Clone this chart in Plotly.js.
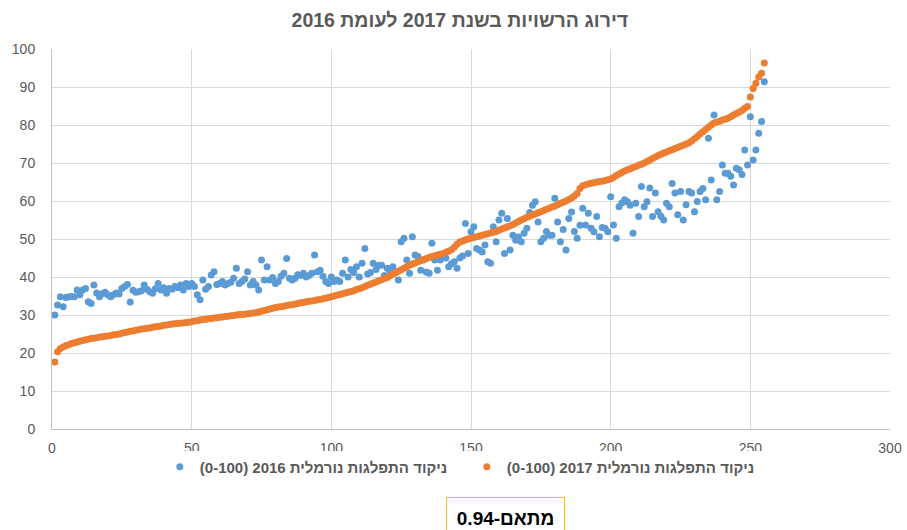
<!DOCTYPE html>
<html>
<head>
<meta charset="utf-8">
<script src="https://cdn.plot.ly/plotly-3.0.1.min.js"></script>
<style>html,body{margin:0;padding:0;background:#fff;}#chart{width:907px;height:530px;}</style>
</head>
<body>
<div id="chart"></div>
<script>
// Title and labels
const chartTitle = "דירוג הרשויות בשנת 2017 לעומת 2016";
const name2016 = "(0-100) 2016 ניקוד התפלגות נורמלית";
const name2017 = "(0-100) 2017 ניקוד התפלגות נורמלית";
const corrLabel = "מתאם-0.94";

// 2017 normalized score (sorted rank order)
const score2017 = [
17.6,20.3,21.2,21.6,22.0,22.2,22.5,22.7,22.9,23.1,
23.3,23.5,23.6,23.8,23.9,24.0,24.2,24.3,24.4,24.5,
24.6,24.8,24.9,25.0,25.2,25.4,25.5,25.7,25.8,26.0,
26.1,26.3,26.4,26.5,26.6,26.8,26.9,27.0,27.1,27.3,
27.4,27.5,27.6,27.7,27.8,27.8,27.9,28.0,28.1,28.2,
28.4,28.5,28.7,28.8,28.9,29.0,29.1,29.2,29.3,29.4,
29.5,29.6,29.7,29.8,29.9,30.0,30.1,30.1,30.2,30.3,
30.4,30.5,30.6,30.8,31.0,31.2,31.4,31.6,31.8,32.0,
32.1,32.2,32.3,32.5,32.6,32.7,32.9,33.0,33.2,33.3,
33.5,33.6,33.7,33.8,34.0,34.1,34.3,34.4,34.6,34.8,
35.0,35.2,35.4,35.6,35.8,36.0,36.2,36.4,36.7,36.9,
37.2,37.5,37.8,38.1,38.4,38.7,39.0,39.3,39.6,39.9,
40.3,40.7,41.1,41.5,41.9,42.3,42.7,43.1,43.4,43.7,
44.0,44.3,44.6,44.9,45.1,45.4,45.6,45.8,46.0,46.2,
46.5,46.8,47.2,47.8,48.6,49.2,49.5,49.8,50.0,50.2,
50.4,50.6,50.8,51.0,51.2,51.4,51.6,51.8,52.0,52.3,
52.6,52.9,53.2,53.5,53.8,54.2,54.6,55.0,55.3,55.7,
56.0,56.3,56.6,56.9,57.2,57.5,57.8,58.1,58.4,58.7,
59.0,59.4,59.7,60.0,60.4,60.8,61.3,62.0,63.3,64.0,
64.3,64.5,64.7,64.8,65.0,65.1,65.2,65.4,65.6,65.8,
66.2,66.7,67.1,67.5,67.9,68.2,68.5,68.8,69.1,69.4,
69.7,70.0,70.4,70.8,71.2,71.6,72.0,72.3,72.6,72.9,
73.2,73.5,73.8,74.1,74.4,74.7,75.0,75.3,75.8,76.4,
77.0,77.6,78.2,78.8,79.4,80.0,80.5,80.8,81.0,81.3,
81.5,81.8,82.2,82.6,83.0,83.4,83.8,84.4,84.9,87.4,
89.6,91.0,92.6,93.6,96.3
];

// 2016 normalized score (same municipalities, in 2017 rank order)
const score2016 = [
30.0,32.6,34.8,32.2,34.6,34.8,34.9,34.8,36.6,35.3,
36.6,37.0,33.5,33.0,37.9,35.8,34.8,35.6,36.0,35.3,
34.8,35.3,35.8,35.5,37.0,37.5,38.0,33.4,36.5,36.0,
36.1,36.4,37.9,36.8,36.1,35.7,36.9,38.3,36.6,37.2,
35.7,37.0,36.8,37.5,37.2,37.9,36.6,38.3,37.5,38.3,
37.5,35.3,34.0,39.2,36.8,37.5,40.5,41.4,38.0,38.3,
38.8,37.9,38.3,38.6,39.7,42.3,38.3,38.8,39.5,41.4,
37.9,38.8,37.9,36.6,44.5,39.2,42.7,39.2,39.9,38.3,
38.8,40.2,41.0,44.9,39.7,39.2,39.7,40.6,40.4,41.0,
40.0,40.4,41.0,45.8,41.4,41.8,40.2,38.8,38.3,40.0,
38.8,39.2,38.8,41.0,44.5,40.0,42.0,41.2,42.7,40.0,
43.6,47.5,40.8,41.2,43.6,42.0,43.1,43.1,40.4,42.3,
41.6,42.7,41.4,39.2,49.3,50.2,44.5,41.0,50.6,45.8,
45.4,41.8,44.5,41.3,41.0,48.9,44.5,41.8,44.5,45.8,
45.0,42.7,43.5,44.0,42.3,45.0,45.5,54.1,46.2,51.9,
53.2,47.5,47.1,46.6,48.4,44.0,43.6,53.2,49.3,55.0,
56.8,46.2,55.4,47.1,51.0,49.7,50.5,49.3,51.5,52.8,
57.0,58.9,59.8,54.5,49.3,50.2,52.0,51.0,51.0,60.7,
54.5,49.3,52.5,47.1,55.4,57.1,52.0,50.2,53.6,58.1,
53.7,56.8,52.8,51.9,55.9,50.6,53.0,52.8,51.9,61.1,
53.7,50.2,58.5,59.5,60.3,59.8,58.9,51.5,59.4,55.9,
63.8,58.5,59.8,63.4,55.9,62.1,57.2,56.0,55.0,59.4,
58.5,64.6,62.1,56.4,62.5,55.0,59.0,62.5,62.1,57.2,
59.9,62.5,63.3,60.3,76.5,65.5,82.6,60.3,62.5,69.5,
67.3,67.3,66.5,64.2,68.6,68.2,67.0,73.4,69.5,82.2,
70.8,73.4,77.8,80.9,91.4
];

const rank2016 = score2016.map((_, i) => i + 1);
const rank2017 = score2017.map((_, i) => i + 1);

const xTicks = [0, 50, 100, 150, 200, 250, 300];
const yTicks = [0, 10, 20, 30, 40, 50, 60, 70, 80, 90, 100];

const FONT = "'Liberation Sans', Arial, 'DejaVu Sans', sans-serif";
const GRAY = "#595959";

const traces = [
  {
    type: "scatter", mode: "markers", name: name2016,
    x: rank2016, y: score2016,
    marker: {color: "#5B9BD5", size: 7}
  },
  {
    type: "scatter", mode: "markers", name: name2017,
    x: rank2017, y: score2017,
    marker: {color: "#ED7D31", size: 7}
  }
];

const layout = {
  width: 907, height: 530,
  margin: {l: 52, r: 17, t: 49, b: 101},
  paper_bgcolor: "#ffffff", plot_bgcolor: "#ffffff",
  font: {family: FONT, color: GRAY, size: 14},
  title: {
    text: "<b>" + chartTitle + "</b>",
    font: {family: FONT, size: 19.5, color: GRAY},
    x: 0.507, xref: "container", xanchor: "center",
    y: 0.962, yref: "container", yanchor: "middle"
  },
  showlegend: true,
  legend: {
    orientation: "h", x: 0.495, xanchor: "center", y: -0.1, yanchor: "middle",
    font: {family: FONT, size: 15, color: GRAY, weight: "bold"},
    traceorder: "normal", entrywidthmode: "pixels", entrywidth: 262
  },
  xaxis: {
    range: [0, 300], tickvals: xTicks, ticktext: xTicks.map(String),
    showgrid: true, gridcolor: "#d9d9d9", gridwidth: 1,
    zeroline: false, showline: true, linecolor: "#bfbfbf", linewidth: 1,
    ticks: "outside", ticklen: 6, tickcolor: "rgba(0,0,0,0)",
    tickfont: {family: FONT, size: 14, color: GRAY},
    fixedrange: true
  },
  yaxis: {
    range: [0, 100], tickvals: yTicks, ticktext: yTicks.map(String),
    showgrid: true, gridcolor: "#d9d9d9", gridwidth: 1,
    zeroline: false, showline: true, linecolor: "#bfbfbf", linewidth: 1,
    ticks: "outside", ticklen: 13, tickcolor: "rgba(0,0,0,0)",
    tickfont: {family: FONT, size: 14, color: GRAY},
    fixedrange: true
  },
  annotations: [{
    text: "<b>" + corrLabel + "</b>",
    xref: "paper", yref: "paper", x: 0.541, y: -0.179,
    xanchor: "center", yanchor: "top", showarrow: false,
    font: {family: FONT, size: 19, color: "#000000"},
    bordercolor: "#FFC000", borderwidth: 1, borderpad: 8,
    bgcolor: "#ffffff", width: 101, height: 24
  }]
};

Plotly.newPlot("chart", traces, layout, {displayModeBar: false, staticPlot: true});
</script>
</body>
</html>
